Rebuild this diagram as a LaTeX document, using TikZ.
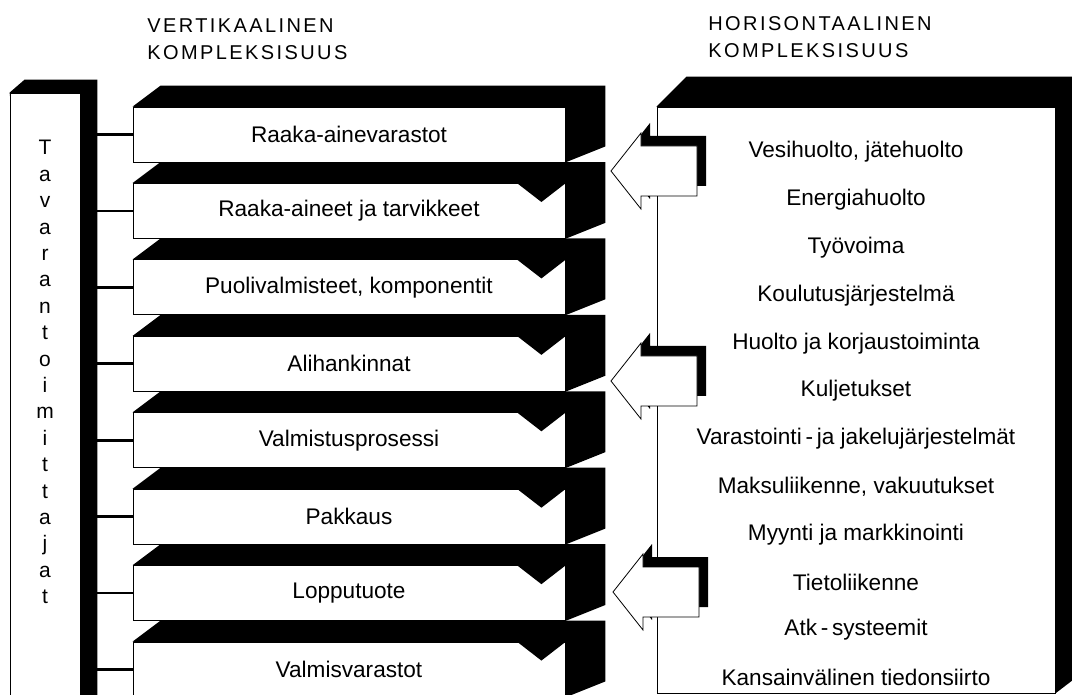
\documentclass[tikz,border=0pt]{standalone}
\usepackage{fontspec}
\setmainfont{Liberation Sans}
\usetikzlibrary{positioning,backgrounds,arrows.meta}

\begin{document}
\begin{tikzpicture}[x=0.5pt, y=-0.5pt, node distance=38.215pt, on grid,
	stage/.style={draw, thin, fill=white, minimum width=216pt, minimum height=27.5pt, inner sep=0pt, font=\fontsize{11.3}{13}\selectfont},
	column/.style={draw, thin, fill=white, inner sep=0pt},
	depth/.style={fill=black},
	link/.style={line width=1.3pt},
	flow/.style={line width=5.5pt, -{Triangle[length=9.5pt, width=24pt]}},
	feed/.style={draw, thin, fill=white, line join=miter},
	item/.style={font=\fontsize{11.3}{13}\selectfont},
	letter/.style={font=\fontsize{10.5}{12}\selectfont, inner sep=0pt},
	heading/.style={align=left, inner sep=0pt, font=\fontsize{10}{13.5}\selectfont\addfontfeature{LetterSpace=12}}]
	\useasboundingbox (0,0) rectangle (1072,695);
	
	% titles
	\node[heading, anchor=north west] (vt) at (147,18) {VERTIKAALINEN\\KOMPLEKSISUUS};
	\node[heading, anchor=north west] (ht) at (708,16) {HORISONTAALINEN\\KOMPLEKSISUUS};
	
	% suppliers
	\node[column, minimum width=35pt, minimum height=313.5pt] (supp) at (45,406.5) {};
	\foreach \ch [count=\j] in {T,a,v,a,r,a,n,t,o,i,m,i,t,t,a,j,a,t}
		\node[letter, anchor=base] (t\j) at (45,{155+26.4*(\j-1)}) {\ch};
	
	% vertical chain
	\node[stage] (b1) at (349,134.5) {Raaka-ainevarastot};
	\node[stage] (b2) [below=of b1] {Raaka-aineet ja tarvikkeet};
	\node[stage] (b3) [below=of b2] {Puolivalmisteet, komponentit};
	\node[stage] (b4) [below=of b3] {Alihankinnat};
	\node[stage] (b5) [below=of b4] {Valmistusprosessi};
	\node[stage] (b6) [below=of b5] {Pakkaus};
	\node[stage] (b7) [below=of b6] {Lopputuote};
	\node[stage] (b8) [below=of b7] {Valmisvarastot};
	
	% horizontal services
	\node[column, minimum width=199pt, minimum height=293pt] (hz) at (856,400) {};
	\node[item] (h1) at (856,152) {Vesihuolto, jätehuolto};
	\node[item] (h2) [below=23.9pt of h1] {Energiahuolto};
	\node[item] (h3) [below=23.9pt of h2] {Työvoima};
	\node[item] (h4) [below=23.9pt of h3] {Koulutusjärjestelmä};
	\node[item] (h5) [below=23.9pt of h4] {Huolto ja korjaustoiminta};
	\node[item] (h6) [below=23.9pt of h5] {Kuljetukset};
	\node[item] (h7) [below=23.9pt of h6] {Varastointi\,-\,ja jakelujärjestelmät};
	\node[item] (h8) [below=23.9pt of h7] {Maksuliikenne, vakuutukset};
	\node[item] (h9) [below=23.9pt of h8] {Myynti ja markkinointi};
	\node[item] (h10) [below=23.9pt of h9] {Tietoliikenne};
	\node[item] (h11) [below=23.9pt of h10] {Atk\,-\,systeemit};
	\node[item] (h12) [below=23.9pt of h11] {Kansainvälinen tiedonsiirto};
	
	% 3d sides
	\begin{scope}[on background layer]
		\fill[depth] (supp.north west) -- ++(15,-13) -| ([shift={(17,0)}]supp.south east) -- (supp.south east) -- cycle;
		\foreach \i in {1,...,8}
			\fill[depth] (b\i.north west) -- ++(28,-21) -| ([shift={(40,-16)}]b\i.south east) -- (b\i.south east) -- cycle;
		\fill[depth] (hz.north west) -- ++(30,-30) -| ([shift={(17,-13)}]hz.south east) -- (hz.south east) -- cycle;
	\end{scope}
	
	\foreach \i in {1,...,8}
		\draw[link] (supp.east |- b\i.west) -- (b\i.west);
	\foreach \i [evaluate=\i as \j using int(\i+1)] in {1,...,7}
		\draw[flow] ([shift={(-24,0)}]b\i.south east) -- ([shift={(-24,19)}]b\j.north east);
	
	% hollow arrows into the chain
	\coordinate (f1) at (611,171);
	\coordinate (f2) at (611,381);
	\coordinate (f3) at (613,592);
	\foreach \f in {f1,f2,f3} {
		\fill[depth] ([shift={(9,-10)}]\f) -- ++(30,-38) -- ++(0,13) -- ++(56,0) -- ++(0,50) -- ++(-56,0) -- ++(0,13) -- cycle;
		\draw[feed] (\f) -- ++(30,-38) -- ++(0,13) -- ++(56,0) -- ++(0,50) -- ++(-56,0) -- ++(0,13) -- cycle;
	}
	
\end{tikzpicture}
\end{document}
